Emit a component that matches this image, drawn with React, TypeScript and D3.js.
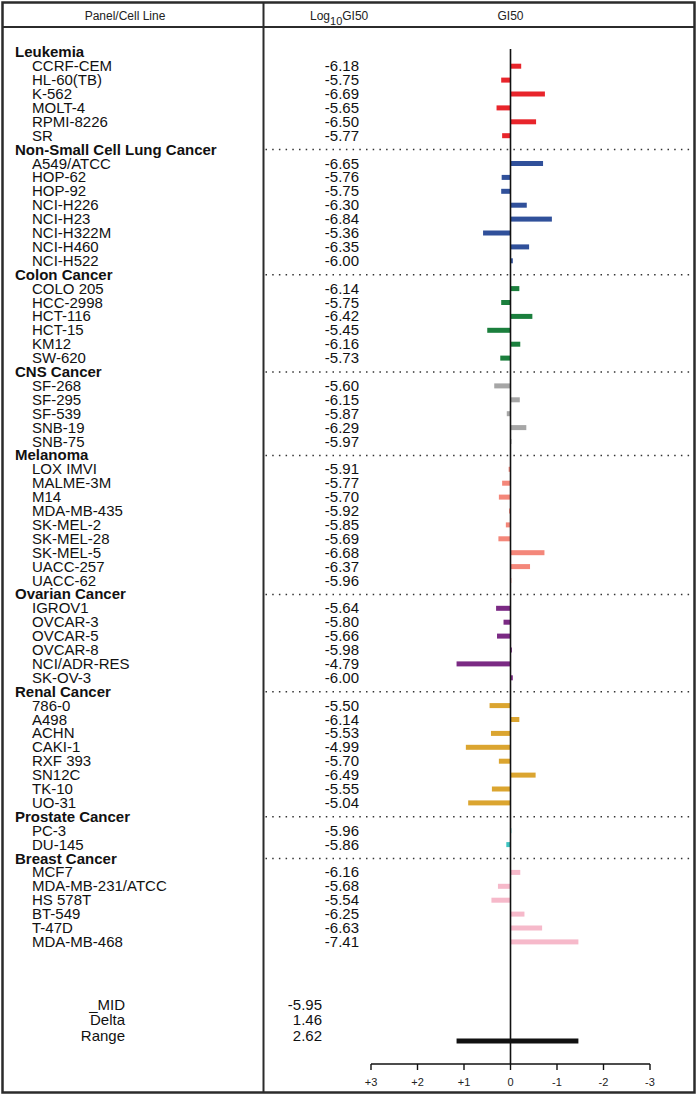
import React from "react";
import * as d3 from "d3";

const W = 697;
const H = 1095;

const panelNames = [
  "Leukemia",
  "Non-Small Cell Lung Cancer",
  "Colon Cancer",
  "CNS Cancer",
  "Melanoma",
  "Ovarian Cancer",
  "Renal Cancer",
  "Prostate Cancer",
  "Breast Cancer",
];
const panelColors = [
  "#e8252b",
  "#30509a",
  "#1b7f3d",
  "#a6a6a6",
  "#f4877a",
  "#7b2a84",
  "#dba530",
  "#3cc3c0",
  "#f6b9ca",
];

const leukemiaLines = ["CCRF-CEM", "HL-60(TB)", "K-562", "MOLT-4", "RPMI-8226", "SR"];
const leukemiaValues = [-6.18, -5.75, -6.69, -5.65, -6.5, -5.77];
const lungLines = ["A549/ATCC", "HOP-62", "HOP-92", "NCI-H226", "NCI-H23", "NCI-H322M", "NCI-H460", "NCI-H522"];
const lungValues = [-6.65, -5.76, -5.75, -6.3, -6.84, -5.36, -6.35, -6.0];
const colonLines = ["COLO 205", "HCC-2998", "HCT-116", "HCT-15", "KM12", "SW-620"];
const colonValues = [-6.14, -5.75, -6.42, -5.45, -6.16, -5.73];
const cnsLines = ["SF-268", "SF-295", "SF-539", "SNB-19", "SNB-75"];
const cnsValues = [-5.6, -6.15, -5.87, -6.29, -5.97];
const melanomaLines = ["LOX IMVI", "MALME-3M", "M14", "MDA-MB-435", "SK-MEL-2", "SK-MEL-28", "SK-MEL-5", "UACC-257", "UACC-62"];
const melanomaValues = [-5.91, -5.77, -5.7, -5.92, -5.85, -5.69, -6.68, -6.37, -5.96];
const ovarianLines = ["IGROV1", "OVCAR-3", "OVCAR-5", "OVCAR-8", "NCI/ADR-RES", "SK-OV-3"];
const ovarianValues = [-5.64, -5.8, -5.66, -5.98, -4.79, -6.0];
const renalLines = ["786-0", "A498", "ACHN", "CAKI-1", "RXF 393", "SN12C", "TK-10", "UO-31"];
const renalValues = [-5.5, -6.14, -5.53, -4.99, -5.7, -6.49, -5.55, -5.04];
const prostateLines = ["PC-3", "DU-145"];
const prostateValues = [-5.96, -5.86];
const breastLines = ["MCF7", "MDA-MB-231/ATCC", "HS 578T", "BT-549", "T-47D", "MDA-MB-468"];
const breastValues = [-6.16, -5.68, -5.54, -6.25, -6.63, -7.41];

const panelLines = [leukemiaLines, lungLines, colonLines, cnsLines, melanomaLines, ovarianLines, renalLines, prostateLines, breastLines];
const panelValues = [leukemiaValues, lungValues, colonValues, cnsValues, melanomaValues, ovarianValues, renalValues, prostateValues, breastValues];

const statLabels = ["_MID", "Delta", "Range"];
const statValues = ["-5.95", "1.46", "2.62"];
const MID = -5.95;
const rangeMin = -7.41;
const rangeMax = -4.79;

const tickValues = [3, 2, 1, 0, -1, -2, -3];
const tickLabels = ["+3", "+2", "+1", "0", "-1", "-2", "-3"];

type Row =
  | { kind: "panel"; name: string; idx: number; panel: number }
  | { kind: "line"; name: string; value: number; idx: number; panel: number };

const rows: Row[] = [];
panelNames.forEach((p, pi) => {
  rows.push({ kind: "panel", name: p, idx: rows.length, panel: pi });
  panelLines[pi].forEach((n, li) => {
    rows.push({ kind: "line", name: n, value: panelValues[pi][li], idx: rows.length, panel: pi });
  });
});

const FONT = "'Liberation Sans', Arial, Helvetica, sans-serif";

export default function App() {
  const x = d3.scaleLinear().domain([3, -3]).range([371, 650]);
  const y = d3.scaleLinear().domain([0, rows.length - 1]).range([52.3, 941.9]);
  const x0 = x(0);
  const axisY = 1064;
  const barH = 5;
  const divX = 263.5;

  return (
    <svg width={W} height={H} style={{ position: "absolute", left: 0, top: 0, background: "#fff" }} fontFamily={FONT}>
      <rect x={0} y={0} width={W} height={H} fill="#fff" />
      {/* frame */}
      <rect x={2.5} y={2.5} width={692} height={1090} fill="none" stroke="#2b2b2b" strokeWidth={2.5} />
      <line x1={2.5} x2={694.5} y1={27} y2={27} stroke="#2b2b2b" strokeWidth={2} />
      <line x1={divX} x2={divX} y1={2.5} y2={1092.5} stroke="#2b2b2b" strokeWidth={2} />

      {/* header */}
      <text x={125} y={20} fontSize={12} textAnchor="middle" fill="#222">Panel/Cell Line</text>
      <text x={310} y={20} fontSize={12} fill="#222">
        Log<tspan dy={5} fontSize={11}>10</tspan><tspan dy={-5}>GI50</tspan>
      </text>
      <text x={x0} y={20} fontSize={12} textAnchor="middle" fill="#222">GI50</text>

      {/* dotted separators */}
      {rows.filter((r) => r.kind === "panel" && r.panel > 0).map((r) => (
        <line key={"d" + r.idx} x1={divX + 2} x2={693} y1={y(r.idx)} y2={y(r.idx)}
          stroke="#333" strokeWidth={1.5} strokeDasharray="1.5,5.2" />
      ))}

      {/* labels */}
      {rows.map((r) =>
        r.kind === "panel" ? (
          <text key={"t" + r.idx} x={15} y={y(r.idx) + 5} fontSize={15} fontWeight="bold" fill="#111">{r.name}</text>
        ) : (
          <g key={"t" + r.idx}>
            <text x={32} y={y(r.idx) + 5} fontSize={15} fill="#111">{r.name}</text>
            <text x={359} y={y(r.idx) + 5} fontSize={15} textAnchor="end" fill="#111">{r.value.toFixed(2)}</text>
          </g>
        )
      )}

      {/* bars */}
      {rows.map((r) => {
        if (r.kind !== "line") return null;
        const d = r.value - MID;
        const xe = x(d);
        return (
          <rect key={"b" + r.idx} x={Math.min(x0, xe)} y={y(r.idx) - barH / 2}
            width={Math.max(Math.abs(xe - x0), 0.8)} height={barH} fill={panelColors[r.panel]} />
        );
      })}

      {/* zero line */}
      <line x1={x0} x2={x0} y1={49} y2={axisY} stroke="#111" strokeWidth={1.6} />

      {/* stats */}
      {statLabels.map((s, i) => (
        <g key={"s" + i}>
          <text x={125} y={1010 + i * 15.4} fontSize={15} textAnchor="end" fill="#111">{s}</text>
          <text x={322} y={1010 + i * 15.4} fontSize={15} textAnchor="end" fill="#111">{statValues[i]}</text>
        </g>
      ))}

      {/* range bar */}
      <rect x={x(rangeMax - MID)} y={1041 - 2.5} width={x(rangeMin - MID) - x(rangeMax - MID)} height={5} fill="#111" />

      {/* axis */}
      <line x1={x(3)} x2={x(-3)} y1={axisY} y2={axisY} stroke="#111" strokeWidth={1.4} />
      {tickValues.map((t, i) => (
        <g key={"k" + i}>
          <line x1={x(t)} x2={x(t)} y1={axisY} y2={axisY + 6} stroke="#111" strokeWidth={1.4} />
          <text x={x(t)} y={axisY + 22} fontSize={11} textAnchor="middle" fill="#222">{tickLabels[i]}</text>
        </g>
      ))}
    </svg>
  );
}
